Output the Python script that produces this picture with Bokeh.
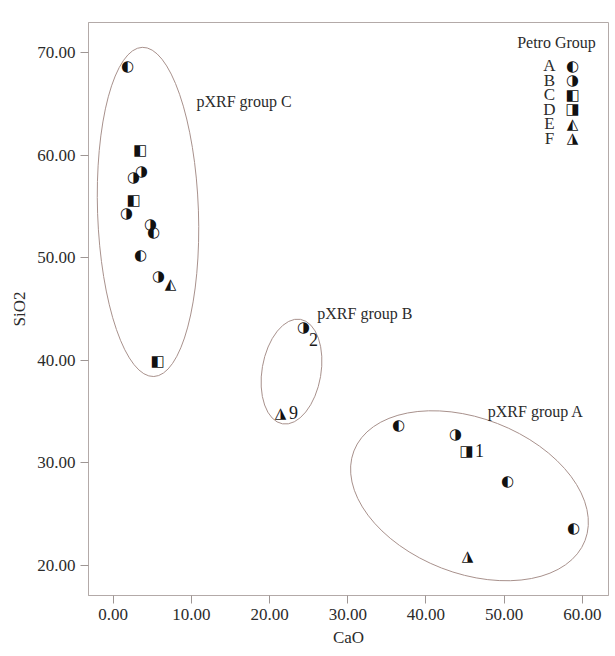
from bokeh.plotting import figure
from bokeh.models import ColumnDataSource, Range1d, FixedTicker, PrintfTickFormatter, Label
from bokeh.embed import file_html
from bokeh.resources import INLINE
from bokeh.core.properties import value

# ---------------- data ----------------
cao = [1.83, 3.43, 3.62, 2.60, 2.60, 1.70, 4.77, 5.15, 3.49, 5.79, 7.33, 5.66,
       24.34, 21.39,
       36.48, 43.77, 45.18, 50.42, 58.86, 45.31]
sio2 = [68.64, 60.45, 58.40, 57.82, 55.67, 54.31, 53.24, 52.46, 50.31, 48.17, 47.39, 39.98,
        43.20, 34.91,
        33.65, 32.77, 31.21, 28.28, 23.70, 20.97]
petro = ["A", "C", "B", "B", "C", "B", "B", "A", "A", "B", "E", "C",
         "B", "F",
         "A", "B", "D", "A", "A", "F"]
sample_id = ["", "", "", "", "", "", "", "", "", "", "", "",
             "2", "9",
             "", "", "1", "", "", ""]

legend_groups = ["A", "B", "C", "D", "E", "F"]
symbols = {"A": "\u25D0", "B": "\u25D1", "C": "\u25E7",
           "D": "\u25E8", "E": "\u25ED", "F": "\u25EE"}

x_ticks = [0, 10, 20, 30, 40, 50, 60]
y_ticks = [20, 30, 40, 50, 60, 70]

# pXRF groups (enclosing ellipses in data units)
pxrf_names = ["pXRF group C", "pXRF group B", "pXRF group A"]
ell_x = [4.45, 22.8, 45.56]
ell_y = [54.46, 38.9, 26.8]
ell_w = [12.9, 7.54, 31.7]
ell_h = [32.1, 10.33, 15.1]
ell_angle = [0.035, -0.17, -0.37]
pxrf_label_x = [10.65, 26.1, 47.9]
pxrf_label_y = [65.2, 44.6, 35.0]

# ---------------- figure ----------------
X0, X1 = -3.16, 63.34
Y0, Y1 = 17.08, 72.92
FW, FH = 520, 573
LEFT, TOP = 88, 22

p = figure(frame_width=FW, frame_height=FH,
           x_range=Range1d(X0, X1), y_range=Range1d(Y0, Y1),
           output_backend="svg", toolbar_location=None,
           min_border_left=LEFT, min_border_right=6,
           min_border_top=TOP, min_border_bottom=58,
           background_fill_color="white", border_fill_color="white")

FRAME = "#b3aaa8"
p.outline_line_color = FRAME
p.grid.visible = False
p.xaxis.ticker = FixedTicker(ticks=x_ticks)
p.yaxis.ticker = FixedTicker(ticks=y_ticks)
p.axis.formatter = PrintfTickFormatter(format="%.2f")
p.axis.major_tick_out = 8
p.axis.major_tick_in = 0
p.axis.minor_tick_out = 0
p.axis.minor_tick_in = 0
p.axis.axis_line_color = FRAME
p.axis.major_tick_line_color = "#9e9694"
p.axis.major_label_text_font = "Liberation Serif"
p.axis.major_label_text_font_size = "17px"
p.axis.major_label_text_color = "#2b2b2b"
p.axis.major_label_standoff = 5
p.xaxis.axis_label = "CaO"
p.yaxis.axis_label = "SiO2"
p.axis.axis_label_text_font = "Liberation Serif"
p.axis.axis_label_text_font_style = "normal"
p.axis.axis_label_text_font_size = "17px"
p.axis.axis_label_text_color = "#2b2b2b"
p.axis.axis_label_standoff = 5

# ellipses
p.ellipse(x=ell_x, y=ell_y, width=ell_w, height=ell_h, angle=ell_angle,
          fill_color=None, line_color="#a8918c", line_width=1)

# group labels
p.text(x=pxrf_label_x, y=pxrf_label_y, text=pxrf_names,
       text_font=value("Liberation Serif"), text_font_size="16px",
       text_color="#2b2b2b", text_align="left", text_baseline="middle")

# points (half-filled symbols)
src = ColumnDataSource(dict(x=cao, y=sio2, sym=[symbols[g] for g in petro], lab=sample_id))
p.text(x="x", y="y", text="sym", source=src,
       text_font=value("DejaVu Sans"), text_font_size="15px",
       text_color="#111111", text_align="center", text_baseline="middle")

# sample numbers
label_dx = {"2": 10, "9": 13, "1": 13}
label_dy = {"2": 12, "9": 0, "1": 0}
lab_src = ColumnDataSource(dict(
    x=[x for x, s in zip(cao, sample_id) if s],
    y=[y for y, s in zip(sio2, sample_id) if s],
    t=[s for s in sample_id if s],
    dx=[label_dx[s] for s in sample_id if s],
    dy=[label_dy[s] for s in sample_id if s]))
p.text(x="x", y="y", text="t", x_offset="dx", y_offset="dy", source=lab_src,
       text_font=value("Liberation Serif"), text_font_size="18px",
       text_color="#1a1a1a", text_align="center", text_baseline="middle")

# legend (placed in pixel layout, converted to data space)
def px2x(px):
    return X0 + (px - LEFT) / FW * (X1 - X0)

def px2y(py):
    return Y1 - (py - TOP) / FH * (Y1 - Y0)

p.add_layout(Label(x=px2x(556), y=px2y(42), text="Petro Group",
                   text_font="Liberation Serif", text_font_size="16px",
                   text_color="#2b2b2b", text_align="center", text_baseline="middle"))
for i, g in enumerate(legend_groups):
    yy = px2y(65 + i * 14.5)
    p.add_layout(Label(x=px2x(549), y=yy, text=g,
                       text_font="Liberation Serif", text_font_size="17px",
                       text_color="#2b2b2b", text_align="center", text_baseline="middle"))
    p.add_layout(Label(x=px2x(572), y=yy, text=symbols[g],
                       text_font="DejaVu Sans", text_font_size="15px",
                       text_color="#111111", text_align="center", text_baseline="middle"))

open("out.html", "w").write(file_html(p, INLINE))
